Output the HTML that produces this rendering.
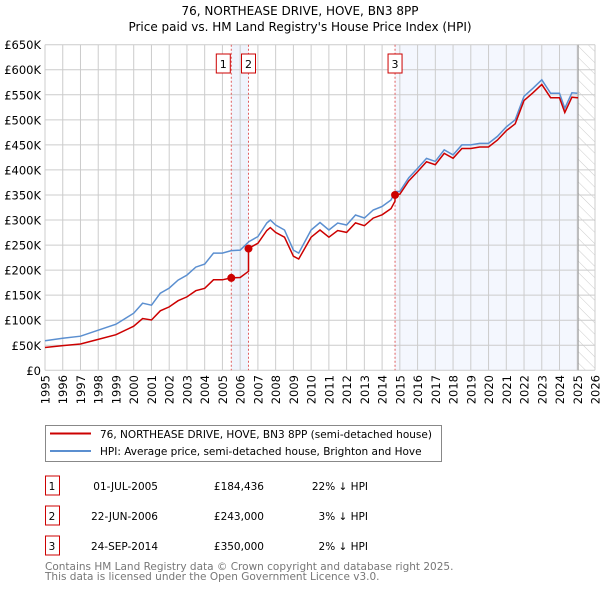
<!DOCTYPE html>
<html><head><meta charset="utf-8"><style>
body{margin:0;background:#fff;font-family:"DejaVu Sans","Liberation Sans",sans-serif;}
svg text{font-family:"DejaVu Sans","Liberation Sans",sans-serif;}
</style></head><body>
<svg id="chart" width="600" height="590" xmlns="http://www.w3.org/2000/svg">
<defs><pattern id="hatch" width="8" height="8" patternUnits="userSpaceOnUse" patternTransform="rotate(-45)"><line x1="0" y1="0" x2="0" y2="8" stroke="#ccc" stroke-width="1"/></pattern></defs>
<text x="300" y="15" text-anchor="middle" font-size="12">76, NORTHEASE DRIVE, HOVE, BN3 8PP</text>
<text x="300" y="31" text-anchor="middle" font-size="12">Price paid vs. HM Land Registry's House Price Index (HPI)</text>
<g id="plot"></g>
<g>
<rect x="45.5" y="425.5" width="396" height="36" fill="#fff" stroke="#888"/>
<line x1="50" y1="433.5" x2="91" y2="433.5" stroke="#cc0000" stroke-width="2"/>
<text x="100" y="438" font-size="10.5">76, NORTHEASE DRIVE, HOVE, BN3 8PP (semi-detached house)</text>
<line x1="50" y1="451" x2="91" y2="451" stroke="#5b8fd0" stroke-width="2"/>
<text x="100" y="455" font-size="10.5">HPI: Average price, semi-detached house, Brighton and Hove</text>
</g>
<g id="table" font-size="10.5"></g>
<text x="45" y="570" font-size="10.5" fill="#777">Contains HM Land Registry data © Crown copyright and database right 2025.</text>
<text x="45" y="580" font-size="10.5" fill="#777">This data is licensed under the Open Government Licence v3.0.</text>
</svg>
<script>
const hpiYears=[1995,1996,1997,1998,1999,2000,2000.5,2001,2001.5,2002,2002.5,2003,2003.5,2004,2004.5,2005,2005.5,2006,2006.5,2007,2007.5,2007.7,2008,2008.5,2009,2009.3,2010,2010.5,2011,2011.5,2012,2012.5,2013,2013.5,2014,2014.5,2014.75,2015,2015.5,2016,2016.5,2017,2017.5,2018,2018.5,2019,2019.5,2020,2020.5,2021,2021.5,2022,2022.5,2023,2023.5,2024,2024.3,2024.7,2025];
const hpiValues=[59,64,68,80,92,114,134,130,154,164,180,190,206,212,234,234,239,240,257,267,294,300,290,280,240,234,280,295,280,294,290,310,304,320,327,340,357,357,384,403,423,417,440,430,450,450,453,453,467,486,500,547,563,580,553,553,523,554,553];
const saleDates=[2005.5,2006.47,2014.73];
const saleLabels=["01-JUL-2005","22-JUN-2006","24-SEP-2014"];
const salePrices=[184436,243000,350000];
const salePriceText=["£184,436","£243,000","£350,000"];
const saleDiffText=["22% ↓ HPI","3% ↓ HPI","2% ↓ HPI"];
const yTicks=[0,50,100,150,200,250,300,350,400,450,500,550,600,650];
const yTickLabels=["£0","£50K","£100K","£150K","£200K","£250K","£300K","£350K","£400K","£450K","£500K","£550K","£600K","£650K"];
const xTicks=[1995,1996,1997,1998,1999,2000,2001,2002,2003,2004,2005,2006,2007,2008,2009,2010,2011,2012,2013,2014,2015,2016,2017,2018,2019,2020,2021,2022,2023,2024,2025,2026];
const dataEnd=2025.05;

const X0=45,X1=595,Y0=370.3,Y1=44.7;
const xs=t=>X0+(t-1995)/(2026-1995)*(X1-X0);
const ys=v=>Y0-v/650*(Y0-Y1);
const NS="http://www.w3.org/2000/svg";
const plot=document.getElementById('plot');
function mk(tag,attrs,parent){const e=document.createElementNS(NS,tag);for(const k in attrs)e.setAttribute(k,attrs[k]);(parent||plot).appendChild(e);return e;}
function hpiAt(t){for(let i=0;i<hpiYears.length-1;i++){if(t>=hpiYears[i]&&t<=hpiYears[i+1]){const f=(t-hpiYears[i])/(hpiYears[i+1]-hpiYears[i]);return hpiValues[i]+f*(hpiValues[i+1]-hpiValues[i]);}}return hpiValues[hpiValues.length-1];}

let r=mk('rect',{x:X0,y:Y1,width:X1-X0,height:Y0-Y1,fill:'#fff'});


let s1=mk('rect',{x:xs(saleDates[0]),y:Y1,width:xs(saleDates[1])-xs(saleDates[0]),height:Y0-Y1,fill:'#f0f4fc'});


let s2=mk('rect',{x:xs(saleDates[2]),y:Y1,width:xs(dataEnd)-xs(saleDates[2]),height:Y0-Y1,fill:'#f4f7fe'});


let h=mk('rect',{x:xs(dataEnd),y:Y1,width:X1-xs(dataEnd),height:Y0-Y1,fill:'url(#hatch)'});


yTicks.forEach((v,i)=>{
 let l=mk('line',{x1:X0,x2:X1,y1:ys(v),y2:ys(v),stroke:'#ccc','stroke-width':1});
 
 
 let t=mk('text',{x:41,y:ys(v)+4.5,'text-anchor':'end','font-size':11.5});
 
 
 t.textContent=yTickLabels[i];
});
xTicks.forEach(yr=>{
 let l=mk('line',{x1:xs(yr),x2:xs(yr),y1:Y1,y2:Y0,stroke:'#ccc','stroke-width':1});
 
 
 let t=mk('text',{x:0,y:0,'text-anchor':'end','font-size':11.5,transform:`translate(${xs(yr)+4.5},375) rotate(-90)`});
 
 
 t.textContent=yr;
});
let dl=mk('line',{x1:xs(dataEnd),x2:xs(dataEnd),y1:Y1,y2:Y0,stroke:'#999','stroke-width':1});


saleDates.forEach((d,i)=>{
 let l=mk('line',{x1:xs(d),x2:xs(d),y1:Y1,y2:Y0,stroke:'#e06060','stroke-width':1,'stroke-dasharray':'2,2'});
 
 
 const bx=i===0?xs(d)-15:xs(d)-7;
 let b=mk('rect',{x:bx,y:54,width:14,height:19,fill:'#fff',stroke:'#cc0000'});
 
 
 let t=mk('text',{x:bx+7,y:68,'text-anchor':'middle','font-size':11});
 
 
 t.textContent=i+1;
});
let hp=hpiYears.map((t,i)=>`${xs(t).toFixed(1)},${ys(hpiValues[i]).toFixed(1)}`).join(' ');
let hl=mk('polyline',{points:hp,fill:'none',stroke:'#5b8fd0','stroke-width':1.5});


const ratios=saleDates.map((d,i)=>salePrices[i]/1000/hpiAt(d));
let all=[];
for(let k=0;k<saleDates.length;k++){
 const start=k===0?1995:saleDates[k];
 const end=k<saleDates.length-1?saleDates[k+1]:dataEnd;
 all.push([start,hpiAt(start)*ratios[k]]);
 hpiYears.forEach((t,i)=>{if(t>start&&t<end)all.push([t,hpiValues[i]*ratios[k]]);});
 all.push([end,hpiAt(end)*ratios[k]]);
}
let pl=mk('polyline',{points:all.map(p=>`${xs(p[0]).toFixed(1)},${ys(p[1]).toFixed(1)}`).join(' '),fill:'none',stroke:'#cc0000','stroke-width':1.5});


saleDates.forEach((d,i)=>{
 let c=mk('circle',{cx:xs(d),cy:ys(salePrices[i]/1000),r:4,fill:'#cc0000'});
 
 
});
const tb=document.getElementById('table');
saleDates.forEach((d,i)=>{
 const y=483+i*30;
 let b=mk('rect',{x:45.5,y:y-7,width:14,height:19,fill:'#fff',stroke:'#cc0000'},tb);
 
 
 const cells=[[52,String(i+1),'middle'],[158,saleLabels[i],'end'],[264,salePriceText[i],'end'],[368,saleDiffText[i],'end']];
 cells.forEach(c=>{
  let t=mk('text',{x:c[0],y:y+7,'text-anchor':c[2]},tb);
  
  
  t.textContent=c[1];
 });
});
</script>
</body></html>
